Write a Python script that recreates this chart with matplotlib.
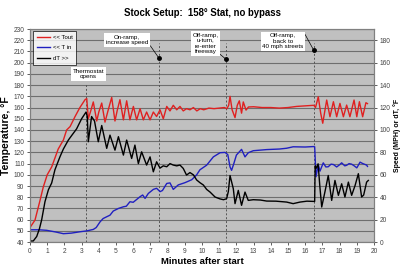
import matplotlib
matplotlib.use("Agg")
import matplotlib.pyplot as plt
from matplotlib.lines import Line2D

plt.rcParams['font.family'] = ['Liberation Sans', 'DejaVu Sans']

# Tout, left axis (deg F)
tout_t = [0, 0.29, 0.58, 0.77, 1.0, 1.26, 1.45, 1.64, 1.94, 2.13, 2.33, 2.62, 2.9, 3.2, 3.3,
          3.39, 3.55, 3.68, 3.88, 4.0, 4.17, 4.36, 4.55, 4.75, 4.94, 5.08, 5.23, 5.43, 5.62,
          5.81, 6.01, 6.2, 6.4, 6.59, 6.78, 6.98, 7.17, 7.36, 7.56, 7.75, 7.95, 8.14, 8.33,
          8.53, 8.72, 8.91, 9.1, 9.3, 9.5, 9.7, 9.9, 10.1, 10.4, 10.7, 11.0, 11.3, 11.45,
          11.55, 11.63, 11.75, 11.92, 12.05, 12.17, 12.3, 12.4, 12.56, 12.7, 13.0, 13.5,
          14.0, 14.5, 15.0, 15.5, 16.0, 16.5, 16.6, 16.76, 16.9, 17.02, 17.25, 17.44, 17.64,
          17.83, 18.02, 18.22, 18.41, 18.6, 18.84, 19.0, 19.15, 19.34, 19.53, 19.62]
tout = [53, 59.6, 77, 89, 100, 107, 115, 123, 131, 140, 143, 152, 160, 167, 168,
        150, 158, 165, 148, 156, 164, 147, 158, 169, 148, 158, 167, 149, 166,
        149, 161, 149, 159, 149, 156, 149, 156, 152, 158, 150, 161, 157, 162,
        158, 161, 157, 159, 158, 160, 157, 159, 158, 159.5, 159, 159.5, 160, 159,
        162, 170, 158, 151, 162, 166, 155, 165, 157.7, 160.5, 160.7, 160,
        160, 159.5, 160, 161, 161.5, 162, 160, 169.6, 155, 146, 166.7, 151.8, 165.2,
        151.8, 163.7, 151.8, 162.2, 151.8, 166.7, 151.8, 165.2, 151.8, 164.3, 163.5]

# T in, left axis (deg F)
tin_t = [0, 0.5, 0.97, 1.5, 1.94, 2.4, 2.9, 3.3, 3.68, 3.85, 4.07, 4.25, 4.46, 4.65, 4.84,
         5.14, 5.43, 5.6, 5.81, 6.0, 6.2, 6.4, 6.55, 6.69, 6.88, 7.17, 7.36, 7.56, 7.7,
         7.95, 8.14, 8.33, 8.62, 9.01, 9.4, 9.69, 9.88, 10.27, 10.66, 11.05, 11.34, 11.5,
         11.63, 11.72, 11.85, 12.0, 12.3, 12.5, 12.69, 12.98, 13.76, 14.5, 14.92, 15.3,
         16.0, 16.47, 16.55, 16.63, 16.76, 16.86, 17.05, 17.2, 17.34, 17.5, 17.64, 17.83,
         18.0, 18.12, 18.3, 18.41, 18.55, 18.7, 18.85, 19.0, 19.19, 19.35, 19.57, 19.62]
tin = [51, 51, 50.5, 49, 47.5, 48, 49.2, 50, 51.3, 53, 58, 61, 62.6, 64, 67.7,
       70, 71.5, 72, 76, 75.5, 78, 80.5, 82, 79, 83.4, 87, 88, 85, 86,
       92.3, 92.8, 87, 91, 93, 95.6, 100, 104.5, 108.6, 116, 119.7, 120, 118,
       107, 104, 110, 117.6, 122.7, 116, 119.7, 121.5, 122.5, 123, 123.7, 125,
       124.8, 125.2, 125, 98.3, 109.2, 103.3, 110.7, 107, 107.2, 109.5, 109.2, 107,
       109, 110.7, 108, 108.5, 110, 109.5, 108, 106.2, 111.3, 110, 108.7, 107.5]

# dT, right axis (deg F)
dt_t = [0, 0.19, 0.39, 0.55, 0.68, 0.87, 1.07, 1.26, 1.45, 1.74, 1.94, 2.23, 2.42, 2.71,
        3.0, 3.26, 3.33, 3.39, 3.58, 3.75, 3.97, 4.17, 4.46, 4.65, 4.94, 5.14, 5.43, 5.62,
        5.91, 6.1, 6.3, 6.49, 6.78, 6.98, 7.17, 7.36, 7.56, 7.75, 7.95, 8.14, 8.33, 8.53,
        8.72, 8.91, 9.1, 9.3, 9.5, 9.69, 9.88, 10.08, 10.27, 10.47, 10.76, 11.05, 11.25,
        11.43, 11.53, 11.63, 11.82, 11.92, 12.11, 12.3, 12.5, 12.69, 12.98, 13.4, 13.76,
        14.3, 14.92, 15.3, 15.7, 16.1, 16.47, 16.55, 16.58, 16.65, 16.75, 16.85, 16.96,
        17.15, 17.34, 17.54, 17.73, 17.93, 18.12, 18.31, 18.51, 18.7, 18.9, 19.09, 19.28,
        19.4, 19.57, 19.67]
dt = [1, 1, 5, 12, 20, 36, 46.7, 52.7, 64.5, 76, 83, 91, 95, 101,
      110, 116, 112, 89.5, 112, 108, 89.5, 104, 83.6, 95.4, 82, 94, 77.6, 91,
      74.6, 86.5, 70, 80.5, 68.7, 76, 62.7, 71.6, 66, 68, 67.2, 70, 68.7, 68,
      68.7, 65.7, 59.8, 62, 60, 55.4, 53, 50.9, 47, 44.6, 40.2, 38.5, 37.8,
      38.7, 45, 59.4, 47.6, 34.3, 46.1, 32.8, 44.6, 37.2, 37.8, 37.5, 36.6,
      36.5, 35.7, 34.3, 35.7, 36.5, 36.3, 36.3, 68, 66, 69.8, 50, 31.3,
      45, 59.4, 37.2, 55, 41.7, 52, 40.2, 53.5, 41.7, 50.5, 61, 40.2,
      42, 53.5, 55]

# events along the drive
event_x = [7.5, 11.4, 16.5]
event_dot = [204, 203, 211]
event_labels = ["On-ramp,\nincrease speed", "Off-ramp,\nu-turn,\nre-enter\nfreeway",
                "Off-ramp,\nback to\n40 mph streets"]
label_pos = [(5.65, 220), (10.2, 217), (14.7, 219)]
leader_start = [(7.0, 215), (10.7, 212), (16.0, 225)]
thermo_x = 3.25

fig = plt.figure(figsize=(4, 2.69), dpi=100)
ax = fig.add_axes([0.075, 0.1, 0.86, 0.792])
ax2 = ax.twinx()

ax.set_facecolor('#c0c0c0')
ax.set_xlim(0, 20)
ax.set_ylim(40, 230)
ax.set_yticks(range(40, 231, 10))
ax.set_xticks(range(0, 21))
ax.yaxis.grid(True, color='#6e6e6e', linewidth=0.8)
ax.set_axisbelow(True)
ax2.set_ylim(0, 190)
ax2.set_yticks(range(0, 181, 20))

for a in (ax, ax2):
    for s in a.spines.values():
        s.set_color('#808080')
        s.set_linewidth(0.8)
    a.tick_params(labelsize=4.8, colors='#444444', length=2, width=0.6, pad=2)

# event markers
ax.plot([thermo_x, thermo_x], [40, 182], ls=(0, (2, 2)), color='#555555', lw=0.7)
ax.text(3.4, 190, "Thermostat\nopens", fontsize=4.5, ha='center', va='center',
        linespacing=1.1, bbox=dict(facecolor='white', edgecolor='none', pad=1.2))
for x, yd, lab, (lx, ly), (sx, sy) in zip(event_x, event_dot, event_labels, label_pos, leader_start):
    ax.plot([x, x], [40, 218], ls=(0, (2, 2)), color='#555555', lw=0.7)
    ax.plot([sx, x], [sy, yd], color='black', lw=0.5)
    ax.plot(x, yd, 'o', color='black', ms=2.5)
    ax.text(lx, ly, lab, fontsize=4.5, ha='center', va='center', linespacing=1.1,
            bbox=dict(facecolor='white', edgecolor='none', pad=1.2))

ax.plot(tout_t, tout, color='#e02020', lw=1.0)
ax.plot(tin_t, tin, color='#2020c0', lw=1.0)
ax2.plot(dt_t, dt, color='black', lw=1.0)

handles = [Line2D([], [], color='#e02020', lw=1.0),
           Line2D([], [], color='#2020c0', lw=1.0),
           Line2D([], [], color='black', lw=1.0)]
leg = ax2.legend(handles, ["<< Tout", "<< T in", "dT >>"], loc='upper left',
                 bbox_to_anchor=(0.004, 1.0), fontsize=4.3, frameon=True, fancybox=False,
                 edgecolor='black', handlelength=2.2, handletextpad=0.5,
                 labelspacing=0.95, borderpad=0.6, borderaxespad=0.3)
leg.get_frame().set_linewidth(0.6)

ax.set_xlabel("Minutes after start", fontsize=6.8, fontweight='bold', labelpad=2)
ax.set_ylabel("Temperature, °F", fontsize=7.5, fontweight='bold', labelpad=2)
ax2.set_ylabel("Speed (MPH) or dT, °F", fontsize=5, fontweight='bold', labelpad=2)
fig.text(0.505, 0.95, "Stock Setup:  158° Stat, no bypass", fontsize=6.9,
         fontweight='bold', ha='center', va='center')

fig.savefig("out.png", dpi=100)
